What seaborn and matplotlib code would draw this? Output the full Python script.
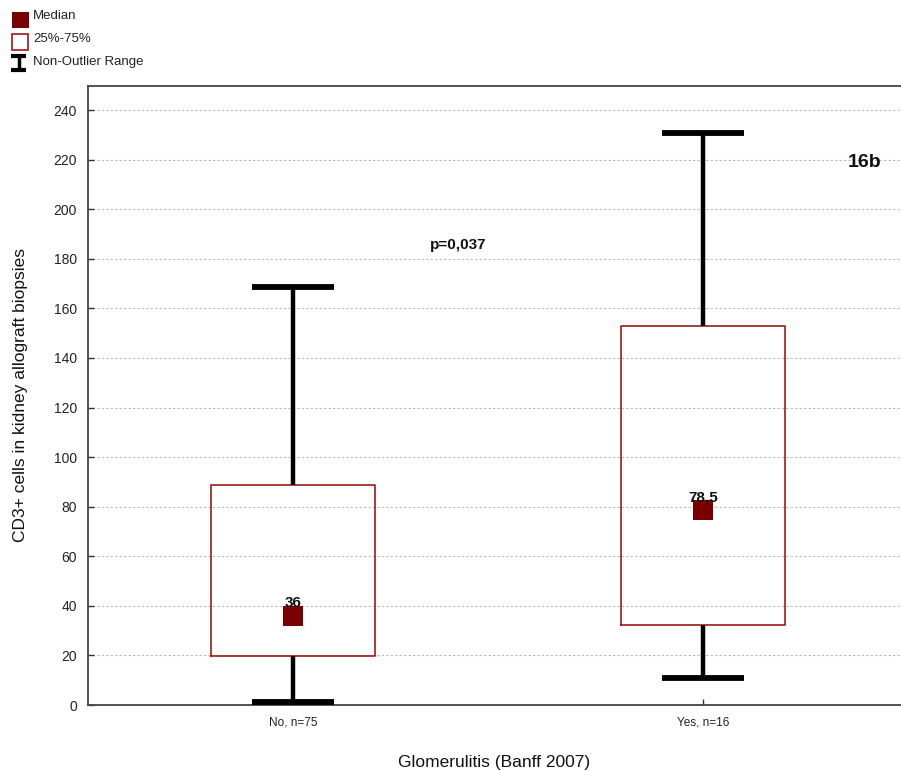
import matplotlib
matplotlib.use("Agg")
import matplotlib.pyplot as plt
import seaborn as sns
import pandas as pd
from matplotlib.patches import Rectangle
from matplotlib.lines import Line2D

# ---- data ----
categories = ["No, n=75", "Yes, n=16"]
medians = [36, 78.5]
median_labels = ["36", "78,5"]
q1 = [19.8, 32.3]
q3 = [88.7, 152.9]
whisker_low = [1.2, 10.9]
whisker_high = [168.6, 230.7]
yticks = list(range(0, 241, 20))

sns.set_theme(style="white")
plt.rcParams["font.family"] = ["Liberation Sans", "DejaVu Sans"]

fig = plt.figure(figsize=(9.01, 7.71), dpi=100)
ax = fig.add_axes([0.0977, 0.0856, 0.9023, 0.8029])

dark_red = "#7a0000"
stats = []
for i, c in enumerate(categories):
    stats.append(dict(med=medians[i], q1=q1[i], q3=q3[i],
                      whislo=whisker_low[i], whishi=whisker_high[i],
                      fliers=[], label=c))
ax.bxp(stats, positions=list(range(len(categories))), widths=0.4,
       showfliers=False,
       boxprops=dict(color="#a01818", linewidth=1.2),
       whiskerprops=dict(color="black", linewidth=3.2, solid_capstyle="butt"),
       capprops=dict(color="black", linewidth=4.2, solid_capstyle="butt"),
       medianprops=dict(linewidth=0),
       manage_ticks=False, zorder=3)

df = pd.DataFrame({"x": list(range(len(categories))), "median": medians})
sns.scatterplot(data=df, x="x", y="median", ax=ax, marker="s", s=200,
                color=dark_red, edgecolor=dark_red, linewidth=0, zorder=5)

for i, lab in enumerate(median_labels):
    ax.text(i, medians[i] + 5.2, lab, ha="center", va="center",
            fontsize=11, fontweight="bold", color="#111111", zorder=6)

ax.text(0.402, 185.6, "p=0,037", ha="center", va="center",
        fontsize=11, fontweight="bold", color="#111111")
ax.text(1.395, 219, "16b", ha="center", va="center",
        fontsize=14, fontweight="bold", color="#111111")

ax.set_xlim(-0.5, 1.483)
ax.set_ylim(0, 249.7)
ax.set_xticks(range(len(categories)))
ax.set_xticklabels(categories, fontsize=8.5, color="#222222")
ax.set_yticks(yticks)
ax.set_yticklabels([str(t) for t in yticks], fontsize=10, color="#222222")
ax.tick_params(axis="both", direction="in", length=4, width=1, color="#333333",
               left=True, bottom=True, pad=8)
ax.yaxis.grid(True, linestyle=(0, (2, 2)), color="#b8b8b8", linewidth=0.8)
ax.set_axisbelow(True)
for s in ["left", "top", "bottom"]:
    ax.spines[s].set_color("#444444")
    ax.spines[s].set_linewidth(1.3)
ax.spines["right"].set_visible(False)

ax.set_ylabel("CD3+ cells in kidney allograft biopsies", fontsize=12.5,
              color="#111111", labelpad=18)
ax.set_xlabel("Glomerulitis (Banff 2007)", fontsize=12.5, color="#111111",
              labelpad=19)

# ---- legend (top-left, figure pixel coords) ----
W, H = 901, 771
def fx(px): return px / W
def fy(py): return 1 - py / H

fig.patches.append(Rectangle((fx(12), fy(28)), fx(17), 16 / H, transform=fig.transFigure,
                             facecolor=dark_red, edgecolor=dark_red, lw=0))
fig.patches.append(Rectangle((fx(12), fy(50)), fx(16), 16 / H, transform=fig.transFigure,
                             facecolor="white", edgecolor="#a01818", lw=1.2))
fig.lines.append(Line2D([fx(18.5), fx(18.5)], [fy(56), fy(70)], transform=fig.transFigure,
                        color="black", lw=2.5, solid_capstyle="butt"))
fig.lines.append(Line2D([fx(11), fx(26)], [fy(56), fy(56)], transform=fig.transFigure,
                        color="black", lw=3, solid_capstyle="butt"))
fig.lines.append(Line2D([fx(11), fx(26)], [fy(70), fy(70)], transform=fig.transFigure,
                        color="black", lw=3, solid_capstyle="butt"))
for ty, t in [(16, "Median"), (39, "25%-75%"), (62, "Non-Outlier Range")]:
    fig.text(fx(33), fy(ty), t, ha="left", va="center", fontsize=9.5, color="#222222")

fig.savefig("out.png", dpi=100, facecolor="white")
